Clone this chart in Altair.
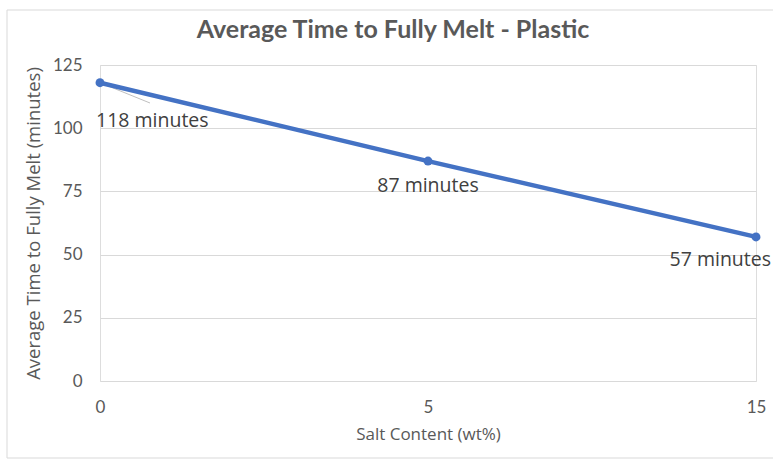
import altair as alt
import pandas as pd

salt = ["0", "5", "15"]
minutes = [118, 87, 57]
labels = ["118 minutes", "87 minutes", "57 minutes"]
chart_title = ["Average Time to Fully Melt - Plastic"]

df = pd.DataFrame({"salt": salt, "minutes": minutes, "label": labels, "i": [0, 1, 2]})
tdf = pd.DataFrame({"t": chart_title})

FONT = "Lato"
FONT2 = "Open Sans"
GRAY = "#595959"
BLUE = "#4472C4"

x = alt.X("salt:N", sort=salt, scale=alt.Scale(type="point", padding=0),
          axis=alt.Axis(title="Salt Content (wt%)", labelAngle=0, domain=False, ticks=False,
                        grid=False, labelFontSize=17, labelColor=GRAY, labelPadding=18,
                        titleFontSize=17, titleColor=GRAY, titleFontWeight="normal",
                        titlePadding=11, labelFont=FONT, titleFont=FONT2))
y = alt.Y("minutes:Q", scale=alt.Scale(domain=[0, 125], nice=False),
          axis=alt.Axis(title="Average Time to Fully Melt (minutes)", values=[0, 25, 50, 75, 100, 125],
                        domain=False, ticks=False, gridColor="#d9d9d9", gridWidth=1,
                        labelFontSize=17, labelColor=GRAY, labelPadding=18,
                        titleFontSize=18.5, titleColor=GRAY, titleFontWeight="normal",
                        titlePadding=9, labelFont=FONT, titleFont=FONT2))

base = alt.Chart(df)

line = base.mark_line(color=BLUE, strokeWidth=4.5).encode(x=x, y=y)
pts = base.mark_circle(color=BLUE, size=80, opacity=1).encode(x=x, y=y)

leader = base.transform_filter("datum.i == 0").mark_rule(color="#bfbfbf", strokeWidth=1).encode(
    x=x, y=y, x2=alt.value(50), y2=alt.value(38))

lab0 = base.transform_filter("datum.i == 0").mark_text(
    align="left", dx=-4, dy=38, fontSize=19.5, font=FONT2, color="#404040").encode(x=x, y=y, text="label:N")
lab1 = base.transform_filter("datum.i == 1").mark_text(
    align="center", dx=0, dy=25, fontSize=19.5, font=FONT2, color="#404040").encode(x=x, y=y, text="label:N")
lab2 = base.transform_filter("datum.i == 2").mark_text(
    align="right", dx=15, dy=23, fontSize=19.5, font=FONT2, color="#404040").encode(x=x, y=y, text="label:N")

title = alt.Chart(tdf).mark_text(fontSize=25, font=FONT, fontWeight="bold", color=GRAY,
                                 align="center", baseline="middle").encode(
    text="t:N", x=alt.value(293), y=alt.value(-35))

border = alt.Chart(tdf).mark_rect(fill=None, stroke="#d9d9d9", strokeWidth=1).encode(
    x=alt.value(-93), x2=alt.value(680), y=alt.value(-55), y2=alt.value(393))

chart = alt.layer(border, title, leader, line, pts, lab0, lab1, lab2).properties(
    width=656, height=316,
    autosize=alt.AutoSizeParams(type="none"),
    padding={"left": 100, "top": 65, "right": 17, "bottom": 81},
).configure_view(stroke=None).configure(background="white")

chart.save("out.html", embed_options={"renderer": "svg", "actions": False})
